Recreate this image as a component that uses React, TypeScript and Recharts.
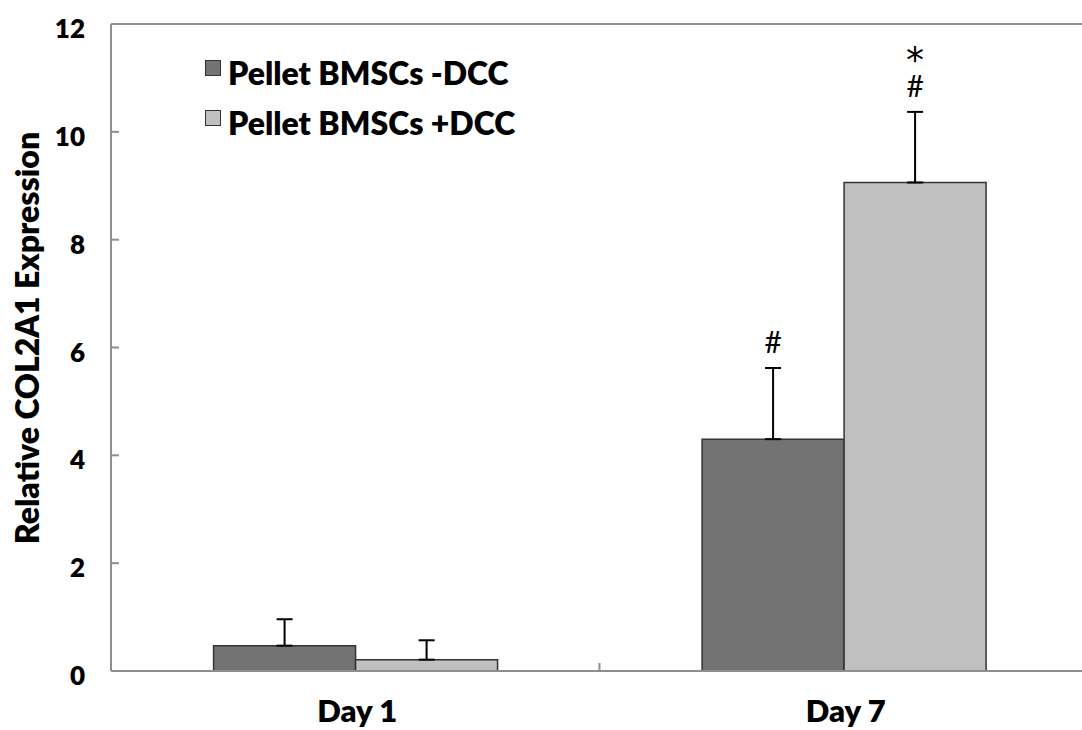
import { BarChart, Bar, XAxis, YAxis, ErrorBar, LabelList, Legend, ReferenceLine, Label } from 'recharts';

const categories = ['Day 1', 'Day 7'];
const minusDcc = [0.47, 4.3];
const plusDcc = [0.21, 9.06];
const minusErr = [0.49, 1.32];
const plusErr = [0.36, 1.31];
// significance marks, listed from the error bar upward
const minusMarks = [[], ['#']];
const plusMarks = [[], ['#', '*']];
const yTicks = [0, 2, 4, 6, 8, 10, 12];

const seriesNames = ['Pellet BMSCs -DCC', 'Pellet BMSCs +DCC'];
const seriesColors = ['#737373', '#c0c0c0'];

const data = categories.map((name, i) => ({
  name,
  minus: minusDcc[i],
  plus: plusDcc[i],
  minusErr: [0, minusErr[i]],
  plusErr: [0, plusErr[i]],
}));

const AXIS = '#8e8e8e';
const FONT = 'Lato, "Open Sans", sans-serif';
const HEAVY = 800;
const X_MARGIN = 29;

const YTick = (props: any) => {
  const { x, y, payload } = props;
  return (
    <g>
      <line x1={x} x2={x + 8} y1={y} y2={y} stroke={AXIS} strokeWidth={2} />
      <text x={x - 26} y={y + 4} textAnchor="end" dominantBaseline="central" fontSize={26} fontWeight={HEAVY} fill="#000" fontFamily={FONT}>
        {payload.value}
      </text>
    </g>
  );
};

const XTick = (props: any) => {
  const { x, y, payload, index } = props;
  const axisY = y - X_MARGIN;
  const off = payload.offset ?? 0;
  return (
    <g>
      {index === 0 && off > 0 && (
        <line x1={x + off} x2={x + off} y1={axisY - 8} y2={axisY} stroke={AXIS} strokeWidth={2} />
      )}
      <text x={x + 2} y={y} dy={22} textAnchor="middle" fontSize={31} fontWeight={HEAVY} fill="#000" fontFamily={FONT}>
        {payload.value}
      </text>
    </g>
  );
};

// marks stacked above the error bar, drawn as one text block
const makeMarks = (errs: number[], marks: string[][]) => (props: any) => {
  const { x, y, width, height, index, value } = props;
  const list = marks[index] || [];
  if (!list.length || !value) return null;
  const errTop = y - errs[index] * (height / value);
  const cx = x + width / 2;
  return (
    <text x={cx} y={errTop - 15} textAnchor="middle" fill="#000">
      {list.map((m, k) => {
        const isStar = m === '*';
        return (
          <tspan
            key={k}
            x={cx}
            dy={k === 0 ? 0 : isStar ? -25 : -33}
            fontSize={isStar ? 36 : 30}
            fontFamily={isStar ? '"DejaVu Sans", sans-serif' : FONT}
          >
            {m}
          </tspan>
        );
      })}
    </text>
  );
};

const LegendBox = () => (
  <svg width={340} height={100}>
    {seriesNames.map((n, i) => (
      <g key={n}>
        <rect x={5.5} y={10.5 + i * 50} width={15} height={15} fill={seriesColors[i]} stroke="#333" strokeWidth={1} />
        <text x={28} y={35 + i * 50} fontSize={32} fontWeight={HEAVY} fill="#000" fontFamily={FONT}>
          {n}
        </text>
      </g>
    ))}
  </svg>
);

const YTitle = () => {
  const cy = 338;
  return (
    <text
      x={39}
      y={cy}
      transform={`rotate(-90, 39, ${cy})`}
      textAnchor="middle"
      fontSize={32}
      fontWeight={HEAVY}
      fill="#000"
      fontFamily={FONT}
    >
      Relative COL2A1 Expression
    </text>
  );
};

export default function App() {
  return (
    <div style={{ position: 'absolute', left: 0, top: 0, width: 1082, height: 730, overflow: 'hidden', background: '#fff', fontFamily: FONT }}>
      <BarChart
        width={1090}
        height={730}
        data={data}
        margin={{ top: 24, right: 2, left: 0, bottom: 0 }}
        barCategoryGap="21%"
        barGap={0}
      >
        <XAxis
          dataKey="name"
          height={59}
          axisLine={{ stroke: AXIS, strokeWidth: 2 }}
          tickLine={false}
          tickSize={0}
          tickMargin={X_MARGIN}
          tick={<XTick />}
          interval={0}
        />
        <YAxis
          width={111}
          domain={[0, 12]}
          ticks={yTicks}
          axisLine={{ stroke: AXIS, strokeWidth: 2 }}
          tickLine={false}
          tickSize={0}
          tickMargin={0}
          tick={<YTick />}
          interval={0}
        >
          <Label content={<YTitle />} />
        </YAxis>
        <ReferenceLine y={12} stroke={AXIS} strokeWidth={2} />
        <Legend
          layout="vertical"
          align="center"
          verticalAlign="middle"
          content={<LegendBox />}
          wrapperStyle={{ left: 200, top: 50, width: 340, height: 100 }}
        />
        <Bar dataKey="minus" fill={seriesColors[0]} stroke="#333" strokeWidth={1.5} isAnimationActive={false}>
          <ErrorBar dataKey="minusErr" width={8} stroke="#000" strokeWidth={2} direction="y" />
          <LabelList dataKey="minus" content={makeMarks(minusErr, minusMarks)} />
        </Bar>
        <Bar dataKey="plus" fill={seriesColors[1]} stroke="#333" strokeWidth={1.5} isAnimationActive={false}>
          <ErrorBar dataKey="plusErr" width={8} stroke="#000" strokeWidth={2} direction="y" />
          <LabelList dataKey="plus" content={makeMarks(plusErr, plusMarks)} />
        </Bar>
      </BarChart>
    </div>
  );
}
